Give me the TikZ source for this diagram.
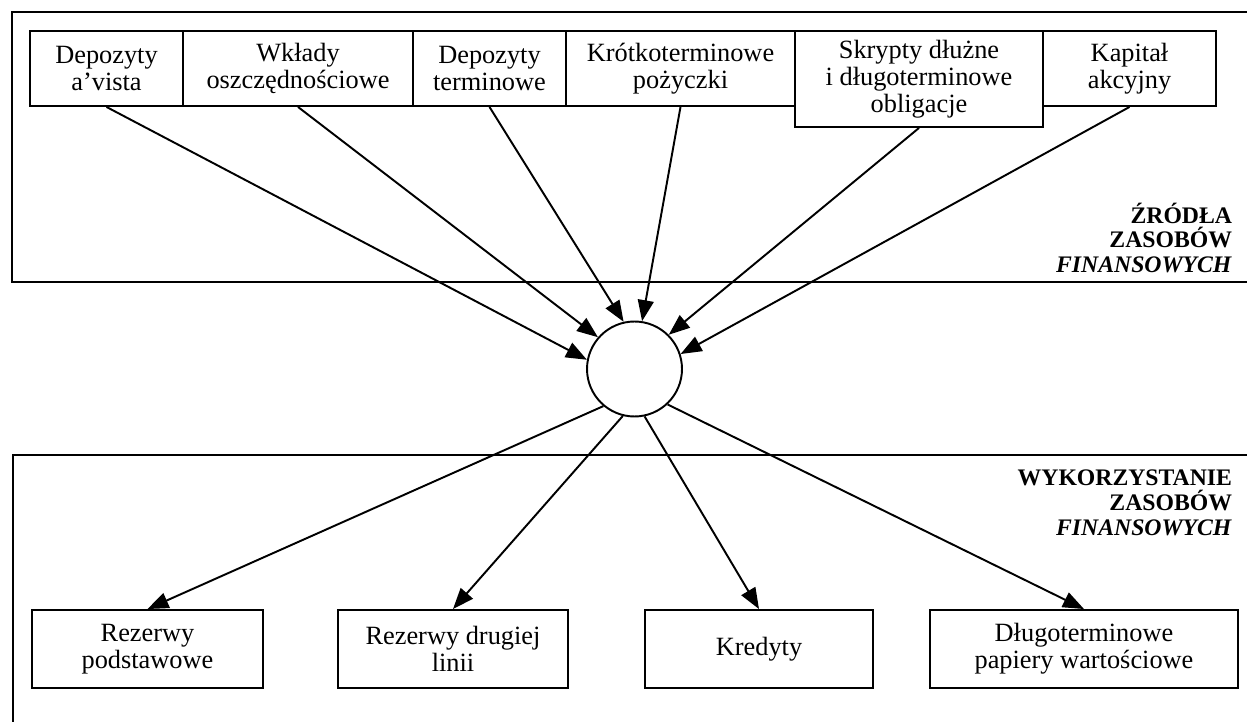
\documentclass[tikz,border=0pt]{standalone}
\usepackage{fontspec}
\setmainfont{Liberation Serif}
\usetikzlibrary{arrows.meta}
\newcommand{\boxtextfont}{\fontsize{15}{15.5}\selectfont}
\newcommand{\grouplabelfont}{\fontsize{13.5}{14.2}\selectfont\bfseries}
\begin{document}
\begin{tikzpicture}[x=0.02cm, y=-0.02cm, line width=1.1pt,
  srcbox/.style={draw, rectangle, inner sep=0pt, align=center, font=\boxtextfont,
                 minimum height=1.5cm},
  usebox/.style={draw, rectangle, inner sep=0pt, align=center, font=\boxtextfont,
                 minimum height=1.56cm},
  hubnode/.style={draw, circle, fill=white, inner sep=0pt, minimum size=1.9cm},
  flow/.style={-{Triangle[length=0.42cm, width=0.32cm]}, line width=1.1pt},
  grouplabel/.style={anchor=east, align=right, inner sep=0pt, font=\grouplabelfont}]

\useasboundingbox (0,0) rectangle (1247,722);

% group frames (open on the right)
\draw (1247,12) -- (12,12) -- (12,282) -- (1247,282);
\draw (1247,455) -- (13,455) -- (13,722);

% sources of funds
\node[srcbox, minimum width=3.06cm] (s1) at (106.5,68.5) {Depozyty\\a’vista};
\node[srcbox, minimum width=4.60cm] (s2) at (298,68.5) {Wkłady\\oszczędnościowe};
\node[srcbox, minimum width=3.06cm] (s3) at (489.5,68.5) {Depozyty\\terminowe};
\node[srcbox, minimum width=4.58cm] (s4) at (680.5,68.5) {Krótkoterminowe\\pożyczki};
\node[srcbox, minimum width=4.96cm, minimum height=1.92cm] (s5) at (919,79)
  {Skrypty dłużne\\i długoterminowe\\obligacje};
\node[srcbox, minimum width=3.46cm] (s6) at (1129.5,68.5) {Kapitał\\akcyjny};

\node[grouplabel] (srclabel) at (1233,238)
  {ŹRÓDŁA\\ZASOBÓW\\\textit{FINANSOWYCH}};

% central hub
\node[hubnode] (hub) at (634.5,369) {};

% uses of funds
\node[usebox, minimum width=4.62cm] (u1) at (147.5,649) {Rezerwy\\podstawowe};
\node[usebox, minimum width=4.60cm] (u2) at (453,649) {Rezerwy drugiej\\linii};
\node[usebox, minimum width=4.56cm] (u3) at (759,649) {Kredyty};
\node[usebox, minimum width=6.16cm] (u4) at (1084,649) {Długoterminowe\\papiery wartościowe};

\node[grouplabel] (uselabel) at (1233,503)
  {WYKORZYSTANIE\\ZASOBÓW\\\textit{FINANSOWYCH}};

% inflows
\draw[flow] (s1.south) -- (hub.169.7);
\draw[flow] (s2.south) -- (hub.139.5);
\draw[flow] (s3.south) -- (hub.103);
\draw[flow] (s4.south) -- (hub.81);
\draw[flow] (s5.south) -- (hub.45.4);
\draw[flow] (s6.south) -- (hub.18.6);

% outflows
\draw[flow] (hub.230) -- (u1.north);
\draw[flow] (hub.256.5) -- (u2.north);
\draw[flow] (hub.282) -- (u3.north);
\draw[flow] (hub.313.7) -- (u4.north);
\end{tikzpicture}
\end{document}
